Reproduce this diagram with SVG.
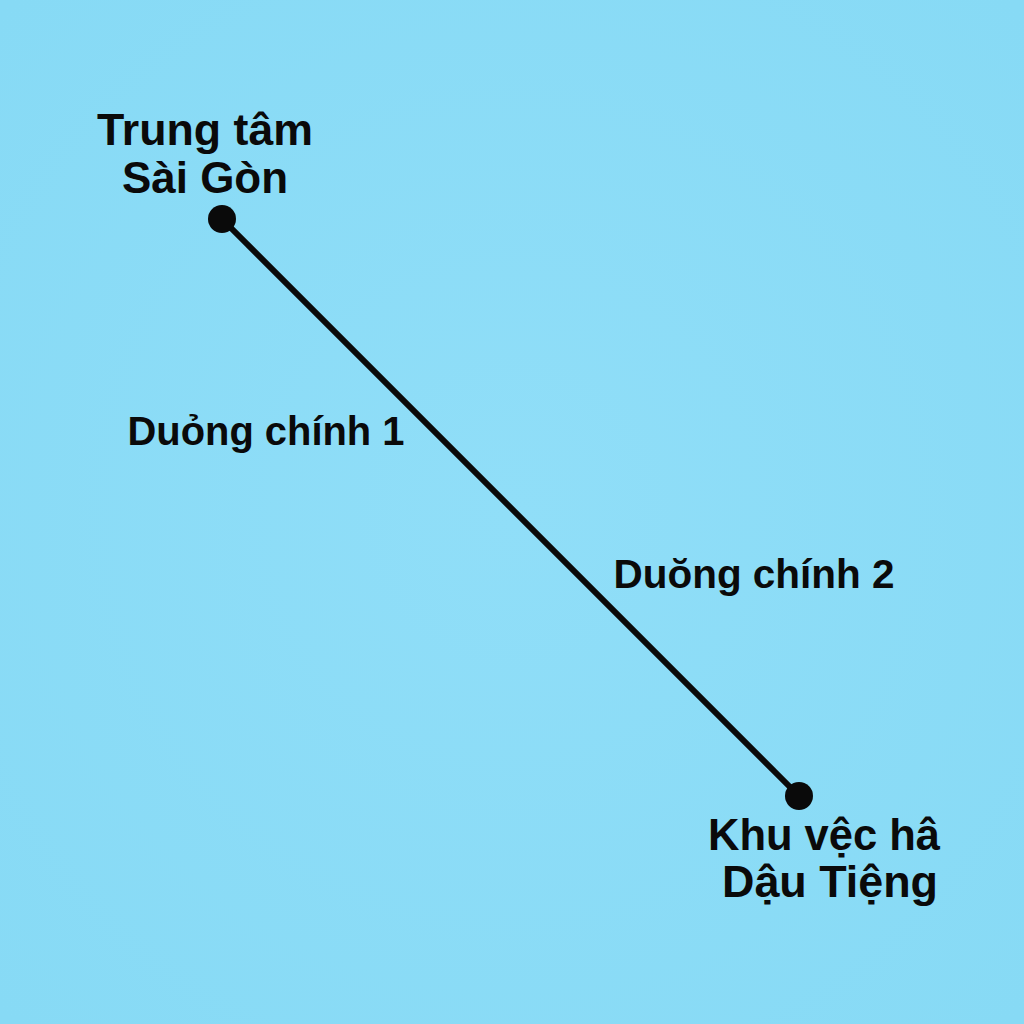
<svg xmlns="http://www.w3.org/2000/svg" width="1024" height="1024" viewBox="0 0 1024 1024">
  <defs>
    <radialGradient id="bg" cx="50%" cy="50%" r="70%">
      <stop offset="0" stop-color="#90def8"/>
      <stop offset="1" stop-color="#87daf5"/>
    </radialGradient>
  </defs>
  <style>
    .t { font-family: "Liberation Sans", Arial, sans-serif; font-weight: bold; fill: #0a0a0a; text-anchor: middle; }
    .n { font-size: 45px; }
    .l { font-size: 40px; }
    .dot { fill: #0a0a0a; }
    .edge { stroke: #0a0a0a; stroke-width: 6; stroke-linecap: round; fill: none; }
  </style>
  <rect width="1024" height="1024" fill="url(#bg)"/>
  <g id="connectors">
    <line class="edge" x1="222" y1="219" x2="799" y2="796"/>
    <text class="t l" x="266" y="445" textLength="277" lengthAdjust="spacingAndGlyphs">Duỏng chính 1</text>
    <text class="t l" x="754" y="588" textLength="281" lengthAdjust="spacingAndGlyphs">Duŏng chính 2</text>
  </g>
  <g id="node-saigon">
    <circle class="dot" cx="222" cy="219" r="14"/>
    <text class="t n" x="205" y="145" textLength="216" lengthAdjust="spacingAndGlyphs">Trung tâm</text>
    <text class="t n" x="205" y="193" textLength="166" lengthAdjust="spacingAndGlyphs">Sài Gòn</text>
  </g>
  <g id="node-dautieng">
    <circle class="dot" cx="799" cy="796" r="14"/>
    <text class="t n" x="824" y="850" textLength="232" lengthAdjust="spacingAndGlyphs">Khu vệc hâ</text>
    <text class="t n" x="830" y="897" textLength="216" lengthAdjust="spacingAndGlyphs">Dậu Tiệng</text>
  </g>
</svg>
